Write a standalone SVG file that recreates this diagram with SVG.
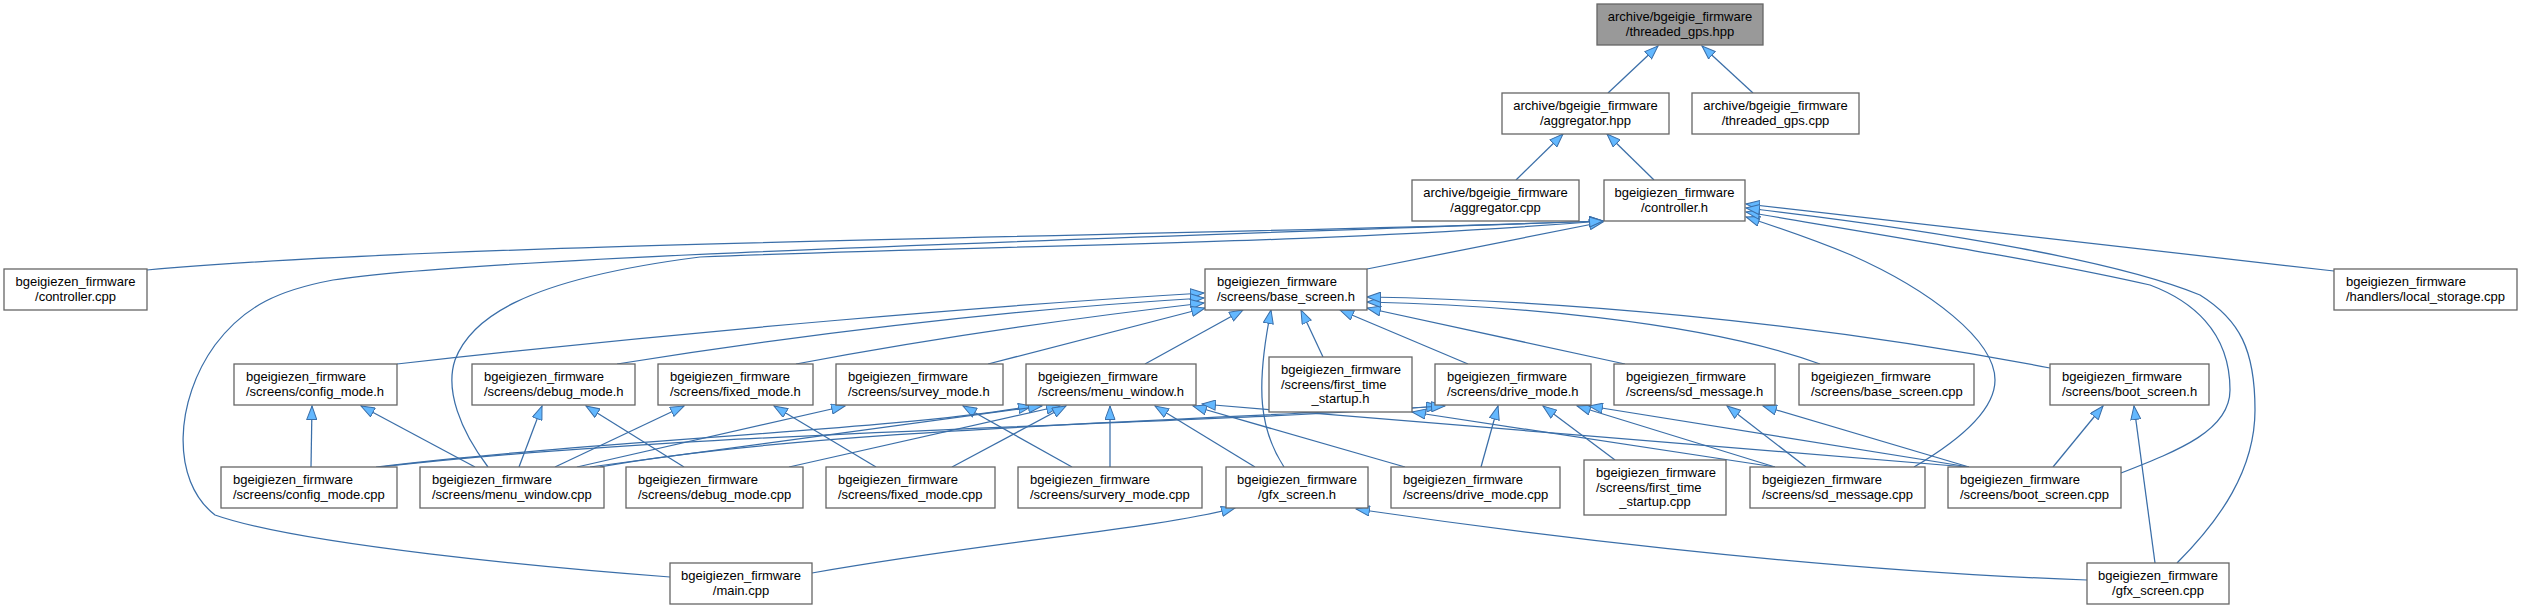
<svg xmlns="http://www.w3.org/2000/svg" width="2521" height="608" viewBox="0 0 2521 608">
<style>
.n rect{fill:#ffffff;stroke:#666666;stroke-width:1.3}
.root rect{fill:#999999;stroke:#666666;stroke-width:1.3}
text{font-family:"Liberation Sans",Arial,sans-serif;font-size:13px;fill:#000}
.c{text-anchor:middle}
.e path{fill:none;stroke:#3a6ea8;stroke-width:1.25;marker-end:url(#arr)}
</style>
<defs>
<marker id="arr" viewBox="0 0 15 11" refX="14" refY="5.5" markerWidth="15" markerHeight="11" markerUnits="userSpaceOnUse" orient="auto">
<path d="M0.5,0.5 L14,5.5 L0.5,10.5 Z" fill="#63b8ff" stroke="#3a6ea8" stroke-width="1"/>
</marker>
</defs>
<rect width="2521" height="608" fill="#ffffff"/>
<g id="edges" class="e">
<path d="M1608,93 L1658,46"/>
<path d="M1753,93 L1702,46"/>
<path d="M1516,180 L1563,134"/>
<path d="M1654,180 L1607,134"/>
<path d="M147,270 C450,242 1200,236 1603,221"/>
<path d="M1367,269 L1603,222"/>
<path d="M2334,271 L1746,204"/>
<path d="M670,577 C550,568 300,545 215,515 C170,480 175,400 215,345 C245,305 280,290 333,280 C450,262 800,248 1603,221"/>
<path d="M488,467 C460,430 445,390 455,360 C470,320 520,280 700,257 C1000,245 1300,245 1603,221"/>
<path d="M1914,467 C1960,440 1995,410 1995,380 C1995,340 1930,290 1851,255 C1810,238 1780,228 1746,217"/>
<path d="M2121,473 C2180,450 2230,430 2230,390 C2230,330 2190,300 2150,285 C2050,262 1900,238 1746,212"/>
<path d="M2177,563 C2220,520 2255,470 2255,410 C2255,350 2240,320 2200,295 C2120,262 1950,232 1746,208"/>
<path d="M397,364 C700,330 1000,305 1204,293"/>
<path d="M617,364 C800,335 1000,310 1204,298"/>
<path d="M796,364 C950,335 1100,315 1204,303"/>
<path d="M988,364 L1205,308"/>
<path d="M1145,364 L1243,310"/>
<path d="M1284,467 C1260,430 1255,390 1271,310"/>
<path d="M1323,357 L1301,310"/>
<path d="M1468,364 L1340,310"/>
<path d="M1625,364 L1367,308"/>
<path d="M1820,364 C1700,320 1500,305 1367,302"/>
<path d="M2050,368 C1800,320 1550,300 1367,297"/>
<path d="M311,467 L312,406"/>
<path d="M475,467 L361,406"/>
<path d="M519,467 L542,406"/>
<path d="M684,467 L586,406"/>
<path d="M555,467 L684,406"/>
<path d="M876,467 L774,406"/>
<path d="M577,467 L845,406"/>
<path d="M1072,467 L963,406"/>
<path d="M376,467 C600,440 900,430 1032,406"/>
<path d="M590,467 L1042,406"/>
<path d="M789,467 L1060,406"/>
<path d="M952,467 L1066,406"/>
<path d="M1110,467 L1110,406"/>
<path d="M1255,467 L1155,406"/>
<path d="M1405,467 L1193,406"/>
<path d="M1967,467 L1202,404"/>
<path d="M1775,467 L1412,412"/>
<path d="M1481,467 L1498,406"/>
<path d="M1615,460 L1543,406"/>
<path d="M1775,467 L1577,406"/>
<path d="M1969,467 L1589,406"/>
<path d="M1806,467 L1727,406"/>
<path d="M1969,467 L1763,406"/>
<path d="M2053,467 L2103,406"/>
<path d="M2155,563 L2134,406"/>
<path d="M812,573 C1000,540 1150,530 1235,508"/>
<path d="M2087,580 C1800,570 1500,530 1356,509"/>
<path d="M380,467 C700,430 1200,425 1440,406"/>
<path d="M600,467 C800,430 1200,420 1445,406"/>
</g>
<g id="n0" class="root"><rect x="1597" y="4" width="166" height="41"/><text class="c" x="1680" y="21">archive/bgeigie_firmware</text><text class="c" x="1680" y="35.5">/threaded_gps.hpp</text></g>
<g id="n1" class="n"><rect x="1502" y="93" width="167" height="41"/><text class="c" x="1585.5" y="110">archive/bgeigie_firmware</text><text class="c" x="1585.5" y="124.5">/aggregator.hpp</text></g>
<g id="n2" class="n"><rect x="1692" y="93" width="167" height="41"/><text class="c" x="1775.5" y="110">archive/bgeigie_firmware</text><text class="c" x="1775.5" y="124.5">/threaded_gps.cpp</text></g>
<g id="n3" class="n"><rect x="1412" y="180" width="167" height="41"/><text class="c" x="1495.5" y="197">archive/bgeigie_firmware</text><text class="c" x="1495.5" y="211.5">/aggregator.cpp</text></g>
<g id="n4" class="n"><rect x="1604" y="180" width="141" height="41"/><text class="c" x="1674.5" y="197">bgeigiezen_firmware</text><text class="c" x="1674.5" y="211.5">/controller.h</text></g>
<g id="n5" class="n"><rect x="4" y="269" width="143" height="41"/><text class="c" x="75.5" y="286">bgeigiezen_firmware</text><text class="c" x="75.5" y="300.5">/controller.cpp</text></g>
<g id="n6" class="n"><rect x="1205" y="269" width="162" height="41"/><text x="1217" y="286">bgeigiezen_firmware</text><text x="1217" y="300.5">/screens/base_screen.h</text></g>
<g id="n7" class="n"><rect x="2334" y="269" width="183" height="41"/><text x="2346" y="286">bgeigiezen_firmware</text><text x="2346" y="300.5">/handlers/local_storage.cpp</text></g>
<g id="n8" class="n"><rect x="234" y="364" width="163" height="41"/><text x="246" y="381">bgeigiezen_firmware</text><text x="246" y="395.5">/screens/config_mode.h</text></g>
<g id="n9" class="n"><rect x="472" y="364" width="163" height="41"/><text x="484" y="381">bgeigiezen_firmware</text><text x="484" y="395.5">/screens/debug_mode.h</text></g>
<g id="n10" class="n"><rect x="658" y="364" width="155" height="41"/><text x="670" y="381">bgeigiezen_firmware</text><text x="670" y="395.5">/screens/fixed_mode.h</text></g>
<g id="n11" class="n"><rect x="836" y="364" width="167" height="41"/><text x="848" y="381">bgeigiezen_firmware</text><text x="848" y="395.5">/screens/survey_mode.h</text></g>
<g id="n12" class="n"><rect x="1026" y="364" width="170" height="41"/><text x="1038" y="381">bgeigiezen_firmware</text><text x="1038" y="395.5">/screens/menu_window.h</text></g>
<g id="n13" class="n"><rect x="1269" y="357" width="143" height="55"/><text x="1281" y="374">bgeigiezen_firmware</text><text x="1281" y="388.5">/screens/first_time</text><text class="c" x="1340.5" y="403">_startup.h</text></g>
<g id="n14" class="n"><rect x="1435" y="364" width="156" height="41"/><text x="1447" y="381">bgeigiezen_firmware</text><text x="1447" y="395.5">/screens/drive_mode.h</text></g>
<g id="n15" class="n"><rect x="1614" y="364" width="161" height="41"/><text x="1626" y="381">bgeigiezen_firmware</text><text x="1626" y="395.5">/screens/sd_message.h</text></g>
<g id="n16" class="n"><rect x="1799" y="364" width="175" height="41"/><text x="1811" y="381">bgeigiezen_firmware</text><text x="1811" y="395.5">/screens/base_screen.cpp</text></g>
<g id="n17" class="n"><rect x="2050" y="364" width="159" height="41"/><text x="2062" y="381">bgeigiezen_firmware</text><text x="2062" y="395.5">/screens/boot_screen.h</text></g>
<g id="n18" class="n"><rect x="221" y="467" width="176" height="41"/><text x="233" y="484">bgeigiezen_firmware</text><text x="233" y="498.5">/screens/config_mode.cpp</text></g>
<g id="n19" class="n"><rect x="420" y="467" width="184" height="41"/><text x="432" y="484">bgeigiezen_firmware</text><text x="432" y="498.5">/screens/menu_window.cpp</text></g>
<g id="n20" class="n"><rect x="626" y="467" width="177" height="41"/><text x="638" y="484">bgeigiezen_firmware</text><text x="638" y="498.5">/screens/debug_mode.cpp</text></g>
<g id="n21" class="n"><rect x="826" y="467" width="169" height="41"/><text x="838" y="484">bgeigiezen_firmware</text><text x="838" y="498.5">/screens/fixed_mode.cpp</text></g>
<g id="n22" class="n"><rect x="1018" y="467" width="184" height="41"/><text x="1030" y="484">bgeigiezen_firmware</text><text x="1030" y="498.5">/screens/survery_mode.cpp</text></g>
<g id="n23" class="n"><rect x="1226" y="467" width="142" height="41"/><text class="c" x="1297" y="484">bgeigiezen_firmware</text><text class="c" x="1297" y="498.5">/gfx_screen.h</text></g>
<g id="n24" class="n"><rect x="1391" y="467" width="169" height="41"/><text x="1403" y="484">bgeigiezen_firmware</text><text x="1403" y="498.5">/screens/drive_mode.cpp</text></g>
<g id="n25" class="n"><rect x="1584" y="460" width="142" height="55"/><text x="1596" y="477">bgeigiezen_firmware</text><text x="1596" y="491.5">/screens/first_time</text><text class="c" x="1655" y="506">_startup.cpp</text></g>
<g id="n26" class="n"><rect x="1750" y="467" width="175" height="41"/><text x="1762" y="484">bgeigiezen_firmware</text><text x="1762" y="498.5">/screens/sd_message.cpp</text></g>
<g id="n27" class="n"><rect x="1948" y="467" width="173" height="41"/><text x="1960" y="484">bgeigiezen_firmware</text><text x="1960" y="498.5">/screens/boot_screen.cpp</text></g>
<g id="n28" class="n"><rect x="670" y="563" width="142" height="41"/><text class="c" x="741" y="580">bgeigiezen_firmware</text><text class="c" x="741" y="594.5">/main.cpp</text></g>
<g id="n29" class="n"><rect x="2087" y="563" width="142" height="41"/><text class="c" x="2158" y="580">bgeigiezen_firmware</text><text class="c" x="2158" y="594.5">/gfx_screen.cpp</text></g>
</svg>
